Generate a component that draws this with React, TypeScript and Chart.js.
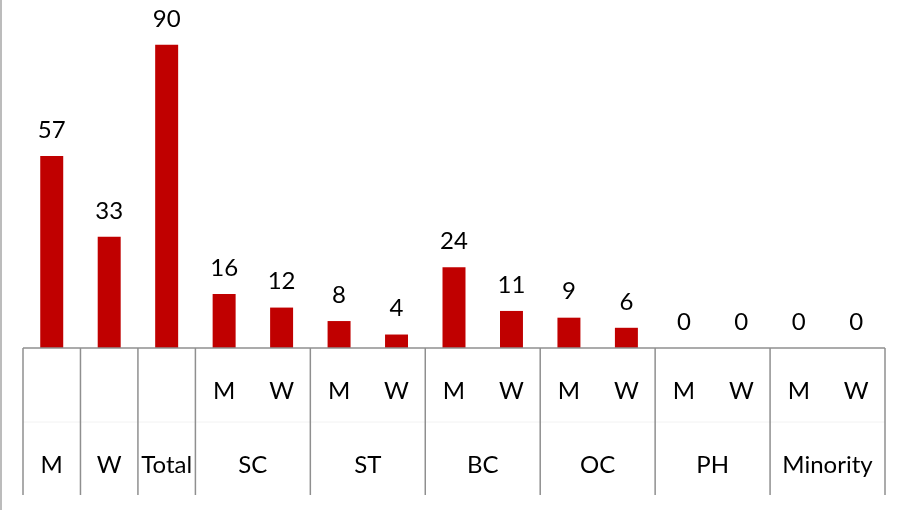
import React, { useEffect, useRef } from "react";
import { Chart, registerables } from "chart.js";

Chart.register(...registerables);

const values = [57, 33, 90, 16, 12, 8, 4, 24, 11, 9, 6, 0, 0, 0, 0];
const subLabels = ["", "", "", "M", "W", "M", "W", "M", "W", "M", "W", "M", "W", "M", "W"];
const groupLabels = ["M", "W", "Total", "SC", "ST", "BC", "OC", "PH", "Minority"];
const groupSpans = [1, 1, 1, 2, 2, 2, 2, 2, 2];
const categories = subLabels.map((s, i) => `${i}`);

const FONT = "Lato, 'Open Sans', sans-serif";
const GRID = "#8f8f8f";

const tablePlugin = {
  id: "tablePlugin",
  afterDatasetsDraw(chart: any) {
    const ctx = chart.ctx;
    const x = chart.scales.x;
    const area = chart.chartArea;
    const n = values.length;
    const half = (x.getPixelForValue(1) - x.getPixelForValue(0)) / 2;
    const base = area.bottom;
    const bottom = base + 147;
    ctx.save();
    // outer left border
    ctx.strokeStyle = "#a6a6a6";
    ctx.lineWidth = 1.5;
    ctx.beginPath();
    ctx.moveTo(1, 0);
    ctx.lineTo(1, chart.height);
    ctx.stroke();
    // faint mid line
    ctx.strokeStyle = "#f2f2f2";
    ctx.lineWidth = 1;
    ctx.beginPath();
    ctx.moveTo(area.left, base + 74);
    ctx.lineTo(area.right, base + 74);
    ctx.stroke();
    // axis line
    ctx.strokeStyle = GRID;
    ctx.lineWidth = 1.5;
    ctx.beginPath();
    ctx.moveTo(area.left, base);
    ctx.lineTo(area.right, base);
    ctx.stroke();
    // group boundaries and labels
    ctx.fillStyle = "#000";
    ctx.font = `24px ${FONT}`;
    ctx.textAlign = "center";
    ctx.textBaseline = "middle";
    let idx = 0;
    const drawV = (px: number) => {
      ctx.beginPath();
      ctx.moveTo(px, base);
      ctx.lineTo(px, bottom);
      ctx.stroke();
    };
    drawV(x.getPixelForValue(0) - half);
    groupSpans.forEach((span, g) => {
      const l = x.getPixelForValue(idx) - half;
      const r = x.getPixelForValue(idx + span - 1) + half;
      drawV(r);
      ctx.fillText(groupLabels[g], (l + r) / 2, base + 117);
      idx += span;
    });
    for (let i = 0; i < n; i++) {
      if (subLabels[i]) ctx.fillText(subLabels[i], x.getPixelForValue(i), base + 43);
    }
    // value labels
    const meta = chart.getDatasetMeta(0);
    meta.data.forEach((bar: any, i: number) => {
      ctx.fillText(String(values[i]), bar.x, bar.y - 26);
    });
    ctx.restore();
  },
};

export default function App() {
  const ref = useRef<HTMLCanvasElement>(null);
  useEffect(() => {
    document.body.style.margin = "0";
    const chart = new Chart(ref.current!, {
      type: "bar",
      data: {
        labels: categories,
        datasets: [
          {
            data: values,
            backgroundColor: "#c00000",
            barPercentage: 0.4,
            categoryPercentage: 1,
          },
        ],
      },
      options: {
        animation: false,
        responsive: false,
        layout: { padding: { left: 23, right: 14, top: 0, bottom: 162 } },
        plugins: { legend: { display: false }, tooltip: { enabled: false } },
        scales: {
          x: { display: false },
          y: { display: false, min: 0, max: 103.3 },
        },
      },
      plugins: [tablePlugin],
    });
    return () => chart.destroy();
  }, []);
  return (
    <div style={{ width: 899, height: 510 }}>
      <canvas ref={ref} width={899} height={510} />
    </div>
  );
}
